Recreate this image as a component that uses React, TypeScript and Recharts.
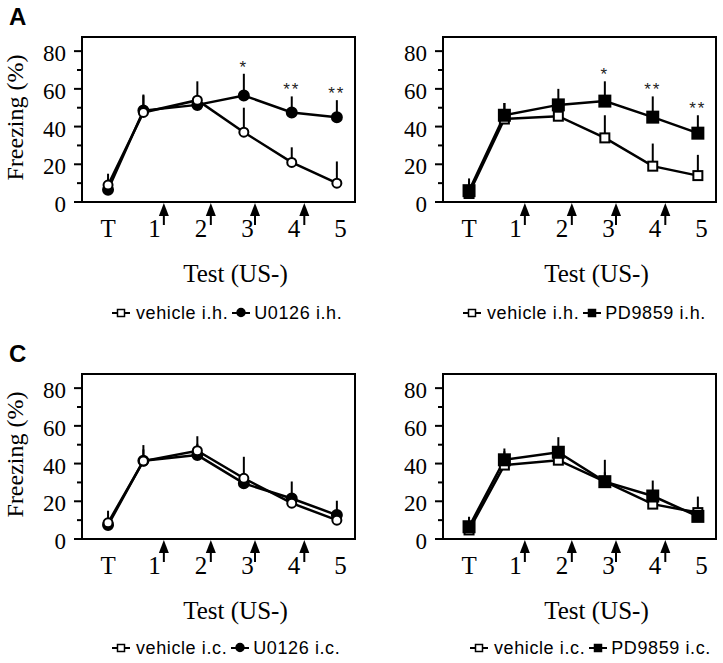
import React from 'react';
import { LineChart, Line, XAxis, YAxis, ErrorBar, ReferenceArea, ReferenceDot, LabelList } from 'recharts';

const SERIF = '"Liberation Serif", "Times New Roman", serif';
const SANS = '"Liberation Sans", Arial, sans-serif';

const sessions = ['T', '1', '2', '3', '4', '5'];
// where each session was plotted on the x axis (T = 0, labels on whole numbers)
const sessionPos = [0, 0.76, 1.92, 2.92, 3.95, 4.92];
// US presentations, drawn as arrows under the axis
const usPos = [1.2, 2.21, 3.16, 4.22];
const yTicks = [0, 10, 20, 30, 40, 50, 60, 70, 80];

// A: intra-hippocampal
const vehIhU = [9, 47.5, 54, 37, 21, 10];
const vehIhUSem = [6, 9.5, 10, 13, 8, 11.5];
const u0126Ih = [6.5, 48.5, 51.5, 56.5, 47.5, 45];
const u0126IhSem = [6, 8, 4, 11.5, 8.5, 9];
const u0126IhStars = ['', '', '', '*', '**', '**'];

const vehIhP = [4.5, 44, 45.5, 34, 19, 14];
const vehIhPSem = [8, 8.5, 4, 12, 12, 11];
const pd9859Ih = [6, 46, 51.5, 53.5, 45, 36.5];
const pd9859IhSem = [5, 6.5, 8.5, 10.5, 11, 9.5];
const pd9859IhStars = ['', '', '', '*', '**', '**'];

// C: intra-cortical
const vehIcU = [8.6, 41.3, 46.8, 32.2, 19, 10];
const vehIcUSem = [6.4, 8.5, 7.7, 11.4, 4, 3];
const u0126Ic = [7.4, 41.5, 44.5, 29.5, 21.5, 12.7];
const u0126IcSem = [4, 6, 6, 4, 9, 7.6];

const vehIcP = [4.8, 39.2, 41.8, 30.4, 18.5, 14];
const vehIcPSem = [7, 8.8, 3, 11.6, 3, 8.5];
const pd9859Ic = [6.5, 42, 46, 30.4, 22.8, 12];
const pd9859IcSem = [5, 4.5, 8, 5, 8.2, 4];

const X_DOMAIN: [number, number] = [-0.56, 5.31];
const Y_DOMAIN: [number, number] = [0, 87.5];

function YTick(props: any) {
  const { x, y, payload } = props;
  const v = payload.value;
  const axisX = x + 16; // tickSize + tickMargin
  const major = v % 20 === 0;
  return (
    <g>
      <line x1={axisX - (major ? 8 : 5)} x2={axisX} y1={y} y2={y} stroke="#000" strokeWidth={2} />
      {major && (
        <text x={x} y={y} dy={10} textAnchor="end" fontSize={23} fontFamily={SERIF} fill="#000">
          {v}
        </text>
      )}
    </g>
  );
}

function Arrow(props: any) {
  const { cx, cy } = props;
  return (
    <g>
      <line x1={cx} x2={cx} y1={cy + 12} y2={cy + 23} stroke="#000" strokeWidth={2} />
      <polygon points={`${cx},${cy + 1} ${cx - 5},${cy + 14} ${cx + 5},${cy + 14}`} fill="#000" />
    </g>
  );
}

function StarLabel(props: any) {
  const { x, y, value } = props;
  if (!value) return null;
  return (
    <text x={x} y={y - 1} textAnchor="middle" fontSize={17} fontFamily={SANS} fill="#222" letterSpacing={2}>
      {value}
    </text>
  );
}

const dotFor = (shape: string, filled: boolean) => (p: any) => {
  const fill = filled ? '#000' : '#fff';
  if (shape === 'square') {
    const s = filled ? 11 : 9;
    return (
      <rect key={p.index} x={p.cx - s / 2} y={p.cy - s / 2} width={s} height={s} fill={fill} stroke="#000" strokeWidth={2} />
    );
  }
  return <circle key={p.index} cx={p.cx} cy={p.cy} r={filled ? 5 : 4.5} fill={fill} stroke="#000" strokeWidth={2} />;
};

function LegendMark({ shape, filled }: { shape: string; filled: boolean }) {
  return (
    <svg width={18} height={12} style={{ display: 'block' }}>
      <line x1={0} x2={18} y1={6} y2={6} stroke="#000" strokeWidth={2} />
      {shape === 'square' ? (
        <rect x={5.5} y={2.5} width={7} height={7} fill={filled ? '#000' : '#fff'} stroke="#000" strokeWidth={1.5} />
      ) : (
        <circle cx={9} cy={5.5} r={4} fill={filled ? '#000' : '#fff'} stroke="#000" strokeWidth={1.5} />
      )}
    </svg>
  );
}

interface PanelProps {
  left: number;
  top: number;
  veh: number[];
  vehSem: number[];
  drug: number[];
  drugSem: number[];
  stars?: string[];
  shape: string;
  yLabel: boolean;
  vehName: string;
  drugName: string;
  vehOnTop: boolean;
  legendLeft: number;
  legendTop: number;
}

function Panel(p: PanelProps) {
  const rows = sessions.map((s, i) => ({
    x: sessionPos[i],
    session: s,
    veh: p.veh[i],
    vehErr: [0, p.vehSem[i]],
    drug: p.drug[i],
    drugErr: [0, p.drugSem[i]],
    starY: p.drug[i] + p.drugSem[i],
    star: p.stars ? p.stars[i] : '',
  }));

  const vehLine = (
    <Line
      key="veh"
      type="linear"
      dataKey="veh"
      stroke="#000"
      strokeWidth={2.5}
      dot={dotFor(p.shape, false)}
      activeDot={false}
      isAnimationActive={false}
    >
      <ErrorBar dataKey="vehErr" direction="y" width={0} stroke="#000" strokeWidth={2} isAnimationActive={false} />
    </Line>
  );
  const drugLine = (
    <Line
      key="drug"
      type="linear"
      dataKey="drug"
      stroke="#000"
      strokeWidth={2.5}
      dot={dotFor(p.shape, true)}
      activeDot={false}
      isAnimationActive={false}
    >
      <ErrorBar dataKey="drugErr" direction="y" width={0} stroke="#000" strokeWidth={2} isAnimationActive={false} />
    </Line>
  );

  return (
    <>
      <div style={{ position: 'absolute', left: p.left, top: p.top }}>
        <LineChart width={361} height={327} data={rows} margin={{ top: 37, right: 6, left: 0, bottom: 0 }}>
          <XAxis
            type="number"
            dataKey="x"
            domain={X_DOMAIN}
            ticks={[0, 1, 2, 3, 4, 5]}
            interval={0}
            height={125}
            tickSize={0}
            tickMargin={17}
            axisLine={false}
            tickLine={false}
            tickFormatter={(v: number) => sessions[v]}
            tick={{ fontSize: 25, fontFamily: SERIF, fill: '#000' }}
            label={(lp: any) => {
              const vb = lp.viewBox;
              return (
                <text x={vb.x + vb.width / 2 + 17} y={vb.y + 80} textAnchor="middle" fontSize={25} fontFamily={SERIF} fill="#000">
                  Test (US-)
                </text>
              );
            }}
          />
          <YAxis
            type="number"
            domain={Y_DOMAIN}
            ticks={yTicks}
            interval={0}
            width={82}
            tickSize={8}
            tickMargin={8}
            axisLine={false}
            tickLine={false}
            tick={YTick}
            label={
              p.yLabel
                ? (lp: any) => {
                    const vb = lp.viewBox;
                    const cy = vb.y + vb.height / 2 - 2;
                    return (
                      <text
                        x={23}
                        y={cy}
                        transform={`rotate(-90, 23, ${cy})`}
                        textAnchor="middle"
                        fontSize={24}
                        fontFamily={SERIF}
                        fill="#000"
                      >
                        Freezing (%)
                      </text>
                    );
                  }
                : undefined
            }
          />
          <ReferenceArea
            x1={X_DOMAIN[0]}
            x2={X_DOMAIN[1]}
            y1={Y_DOMAIN[0]}
            y2={Y_DOMAIN[1]}
            fill="none"
            fillOpacity={0}
            stroke="#000"
            strokeWidth={2}
            ifOverflow="visible"
          />
          {usPos.map((u) => (
            <ReferenceDot key={u} x={u} y={0} r={0} ifOverflow="visible" shape={(sp: any) => <Arrow cx={sp.cx} cy={sp.cy} />} />
          ))}
          {p.vehOnTop ? [drugLine, vehLine] : [vehLine, drugLine]}
          {p.stars && (
            <Line dataKey="starY" stroke="none" dot={false} activeDot={false} isAnimationActive={false}>
              <LabelList dataKey="star" content={StarLabel} />
            </Line>
          )}
        </LineChart>
      </div>
      <div
        style={{
          position: 'absolute',
          left: p.legendLeft,
          top: p.legendTop - 11,
          height: 22,
          display: 'flex',
          alignItems: 'center',
          fontFamily: SANS,
          fontSize: 18,
          letterSpacing: 0.6,
          whiteSpace: 'nowrap',
          color: '#000',
        }}
      >
        <LegendMark shape="square" filled={false} />
        <span style={{ marginLeft: 6, marginRight: 4 }}>{p.vehName}</span>
        <LegendMark shape={p.shape} filled={true} />
        <span style={{ marginLeft: 4 }}>{p.drugName}</span>
      </div>
    </>
  );
}

const letterStyle: React.CSSProperties = {
  position: 'absolute',
  left: 9,
  fontFamily: SANS,
  fontWeight: 'bold',
  fontSize: 24,
  lineHeight: '24px',
};

export default function App() {
  return (
    <div style={{ position: 'absolute', left: 0, top: 0, width: 723, height: 663, background: '#fff', overflow: 'hidden' }}>
      <div style={{ ...letterStyle, top: 5 }}>A</div>
      <div style={{ ...letterStyle, top: 342 }}>C</div>
      <Panel
        left={0}
        top={0}
        veh={vehIhU}
        vehSem={vehIhUSem}
        drug={u0126Ih}
        drugSem={u0126IhSem}
        stars={u0126IhStars}
        shape="circle"
        yLabel
        vehName="vehicle i.h."
        drugName="U0126 i.h."
        vehOnTop
        legendLeft={112}
        legendTop={313}
      />
      <Panel
        left={361}
        top={0}
        veh={vehIhP}
        vehSem={vehIhPSem}
        drug={pd9859Ih}
        drugSem={pd9859IhSem}
        stars={pd9859IhStars}
        shape="square"
        yLabel={false}
        vehName="vehicle i.h."
        drugName="PD9859 i.h."
        vehOnTop={false}
        legendLeft={463}
        legendTop={313}
      />
      <Panel
        left={0}
        top={337}
        veh={vehIcU}
        vehSem={vehIcUSem}
        drug={u0126Ic}
        drugSem={u0126IcSem}
        shape="circle"
        yLabel
        vehName="vehicle i.c."
        drugName="U0126 i.c."
        vehOnTop
        legendLeft={112}
        legendTop={648}
      />
      <Panel
        left={361}
        top={337}
        veh={vehIcP}
        vehSem={vehIcPSem}
        drug={pd9859Ic}
        drugSem={pd9859IcSem}
        shape="square"
        yLabel={false}
        vehName="vehicle i.c."
        drugName="PD9859 i.c."
        vehOnTop={false}
        legendLeft={470}
        legendTop={648}
      />
    </div>
  );
}
